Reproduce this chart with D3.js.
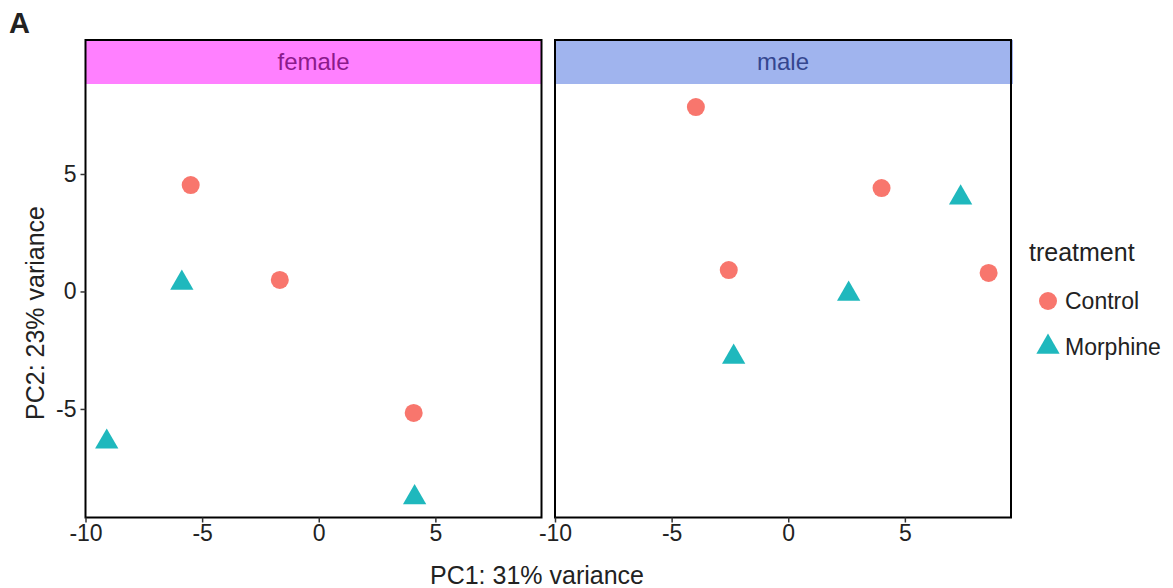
<!DOCTYPE html>
<html>
<head>
<meta charset="utf-8">
<script src="https://cdn.jsdelivr.net/npm/d3@7"></script>
<style>
  body { margin: 0; background: #fff; }
  text { font-family: "Liberation Sans", Arial, sans-serif; }
</style>
</head>
<body>
<div id="chart"></div>
<script>
// samples
const sex       = ["female","female","female","female","female","female",
                   "male","male","male","male","male","male","male"];
const treatment = ["Control","Morphine","Control","Morphine","Control","Morphine",
                   "Control","Control","Morphine","Control","Control","Morphine","Morphine"];
const pc1 = [-5.49, -5.87, -1.67, -9.09, 4.07, 4.11,
             -3.96, 4.0, 7.39, -2.55, 8.59, 2.59, -2.34];
const pc2 = [4.53, 0.36, 0.49, -6.4, -5.17, -8.77,
             7.85, 4.4, 3.99, 0.91, 0.79, -0.11, -2.79];

const panels = ["female", "male"];
const groups = ["Control", "Morphine"];
const xTicks = [-10, -5, 0, 5];
const yTicks = [-5, 0, 5];

const data = sex.map((s, i) => ({sex: s, treatment: treatment[i], pc1: pc1[i], pc2: pc2[i]}));

const W = 1173, H = 588;
const panelTop = 40, stripH = 44, panelBottom = 517.5;
const panelLeft = {female: 85.5, male: 555};
const panelW = 456;

const stripFill = {female: "#ff80ff", male: "#a0b4ee"};
const stripText = {female: "#8b1a8b", male: "#34468f"};
const color = d3.scaleOrdinal().domain(groups).range(["#f8766d", "#1fb8bd"]);

const svg = d3.select("#chart").append("svg")
  .attr("width", W).attr("height", H);

const y = d3.scaleLinear().domain([-9.62, 8.83]).range([panelBottom, panelTop + stripH]);

const triangle = d3.symbol().type(d3.symbolTriangle).size(235);
const circle = d3.symbol().type(d3.symbolCircle).size(255);

panels.forEach(p => {
  const x0 = panelLeft[p];
  const x = d3.scaleLinear().domain([-10, 9.55]).range([x0, x0 + panelW]);
  const g = svg.append("g");

  // strip
  g.append("rect")
    .attr("x", x0).attr("y", panelTop)
    .attr("width", panelW + (p === "male" ? 2 : 0)).attr("height", stripH)
    .attr("fill", stripFill[p]);
  g.append("text")
    .attr("x", x0 + panelW / 2).attr("y", panelTop + stripH / 2 + 8)
    .attr("text-anchor", "middle")
    .attr("font-size", 24)
    .attr("fill", stripText[p])
    .text(p);

  // points
  g.selectAll("path.pt")
    .data(data.filter(d => d.sex === p))
    .join("path")
    .attr("class", "pt")
    .attr("transform", d => `translate(${x(d.pc1)},${y(d.pc2)})`)
    .attr("d", d => d.treatment === "Control" ? circle() : triangle())
    .attr("fill", d => color(d.treatment));

  // panel border
  g.append("rect")
    .attr("x", x0).attr("y", panelTop)
    .attr("width", panelW).attr("height", panelBottom - panelTop)
    .attr("fill", "none")
    .attr("stroke", "#000").attr("stroke-width", 2);

  // x axis
  const xa = g.append("g")
    .attr("transform", `translate(0,${panelBottom})`)
    .call(d3.axisBottom(x).tickValues(xTicks).tickSize(5).tickPadding(2));
  xa.select(".domain").remove();
  xa.selectAll(".tick line").attr("stroke", "#333").attr("stroke-width", 1.5);
  xa.selectAll(".tick text").attr("font-size", 23).attr("fill", "#222")
    .attr("font-family", "Liberation Sans, Arial, sans-serif")
    .text(d => d < 0 ? "-" + Math.abs(d) : d);
});

// y axis (left panel only)
const ya = svg.append("g")
  .attr("transform", `translate(${panelLeft.female},0)`)
  .call(d3.axisLeft(y).tickValues(yTicks).tickSize(5).tickPadding(4));
ya.select(".domain").remove();
ya.selectAll(".tick line").attr("stroke", "#333").attr("stroke-width", 1.5);
ya.selectAll(".tick text").attr("font-size", 23).attr("fill", "#222")
  .attr("font-family", "Liberation Sans, Arial, sans-serif")
  .text(d => d < 0 ? "-" + Math.abs(d) : d);

// axis titles
svg.append("text")
  .attr("x", 537).attr("y", 584)
  .attr("text-anchor", "middle")
  .attr("font-size", 25).attr("fill", "#222")
  .text("PC1: 31% variance");

svg.append("text")
  .attr("transform", "translate(44,313) rotate(-90)")
  .attr("text-anchor", "middle")
  .attr("font-size", 25).attr("fill", "#222")
  .text("PC2: 23% variance");

// panel tag
svg.append("text")
  .attr("x", 9).attr("y", 33)
  .attr("font-size", 29).attr("font-weight", "bold").attr("fill", "#222")
  .text("A");

// legend
const legend = svg.append("g").attr("transform", "translate(1029,0)");
legend.append("text")
  .attr("x", 0).attr("y", 261)
  .attr("font-size", 25).attr("fill", "#222")
  .text("treatment");

groups.forEach((k, i) => {
  const cy = 301 + i * 46;
  legend.append("path")
    .attr("transform", `translate(19,${cy})`)
    .attr("d", k === "Control" ? circle() : triangle())
    .attr("fill", color(k));
  legend.append("text")
    .attr("x", 36).attr("y", cy + 8)
    .attr("font-size", 23).attr("fill", "#222")
    .text(k);
});
</script>
</body>
</html>
